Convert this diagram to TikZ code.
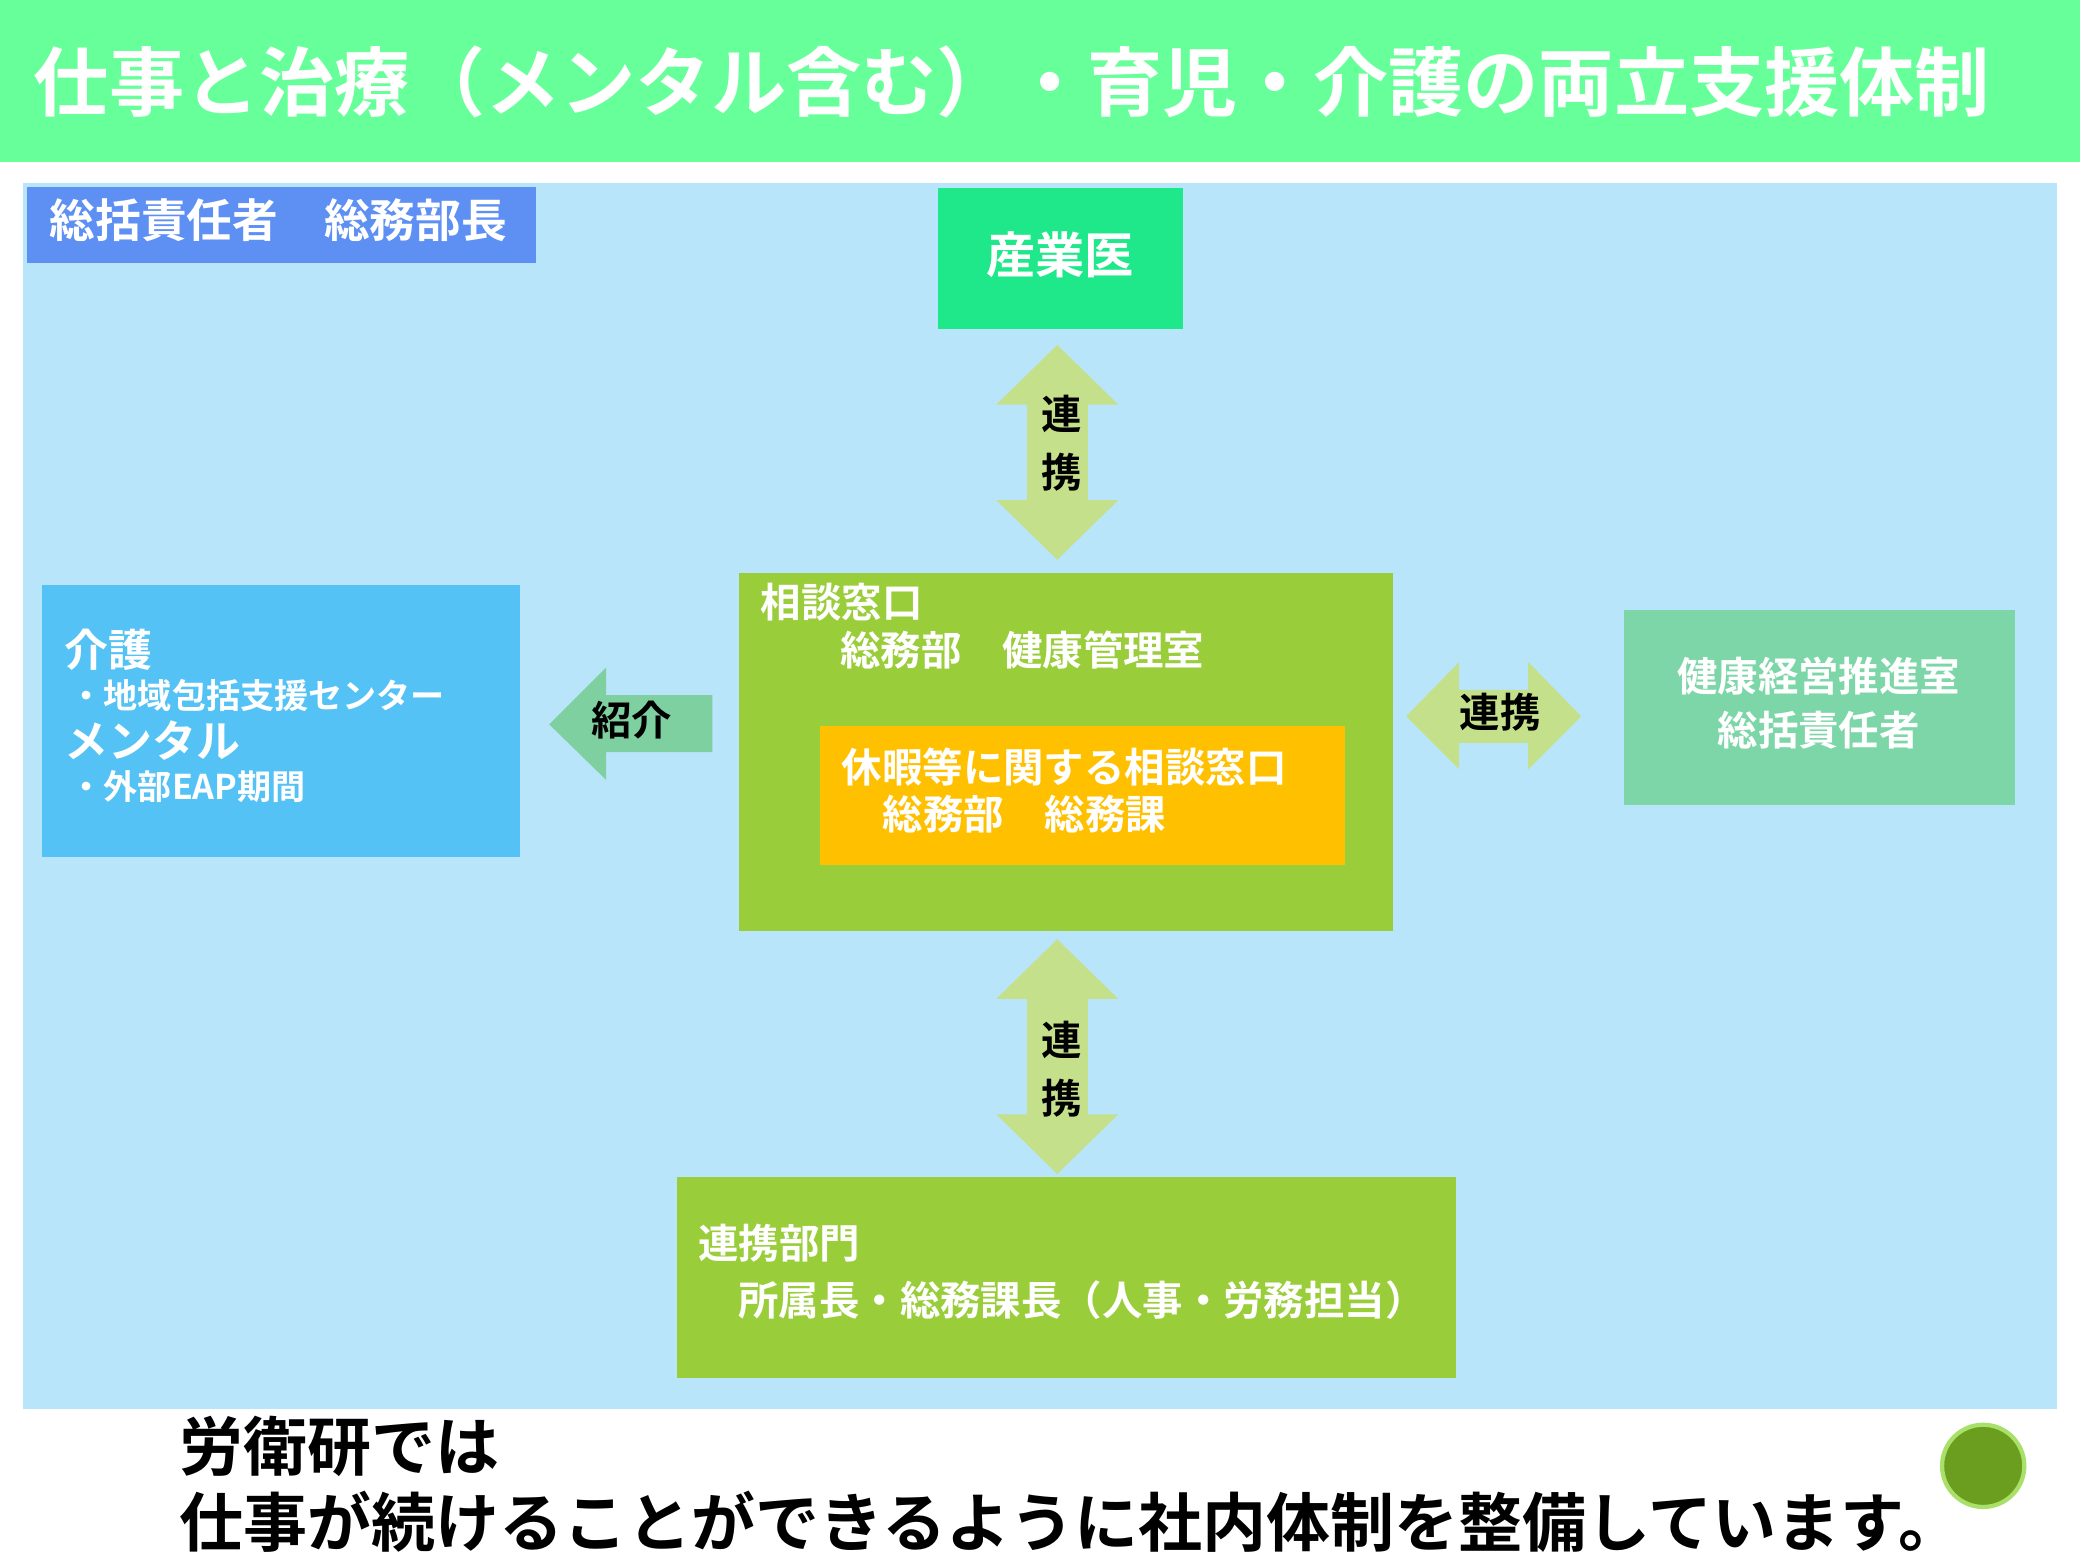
\documentclass[tikz,border=0pt]{standalone}
\usepackage{fontspec}
\setmainfont{Noto Sans CJK JP}[BoldFont={* Bold}]
\definecolor{hdrgreen}{HTML}{66FF99}
\definecolor{panelblue}{HTML}{B9E5FA}
\definecolor{chiefblue}{HTML}{5E8FF2}
\definecolor{docgreen}{HTML}{1EE88A}
\definecolor{linkgreen}{HTML}{C5E08A}
\definecolor{deskgreen}{HTML}{9ACD3A}
\definecolor{deskorange}{HTML}{FFC000}
\definecolor{careblue}{HTML}{55C2F5}
\definecolor{mintgreen}{HTML}{7DD6A8}
\definecolor{referarrow}{HTML}{7FD0A0}
\definecolor{olivedot}{HTML}{6B9E1F}
\definecolor{olivering}{HTML}{A8E06A}
\newcommand\fs[1]{\fontsize{#1pt}{\dimexpr #1pt*5/4\relax}\selectfont\bfseries}
\tikzset{
  box/.style={anchor=north west, inner sep=0pt, outer sep=0pt},
  wtxt/.style={anchor=west, text=white, inner sep=0pt},
  ktxt/.style={text=black, inner sep=0pt},
}
\begin{document}
\begin{tikzpicture}[x=0.013265cm, y=-0.013265cm]
\useasboundingbox (0,0) rectangle (1568,1176);
\fill[white] (0,0) rectangle (1568,1176);
% header
\fill[hdrgreen] (0,0) rectangle (1568,122);
\node[wtxt] (title) at (25,62) {\fs{21.4}仕事と治療（メンタル含む）・育児・介護の両立支援体制};
% panel
\fill[panelblue] (17,138) rectangle (1551,1062);
\node[box, fill=chiefblue, minimum width=5.094cm, minimum height=0.756cm] (chief) at (20,141) {};
\node[wtxt] (chieftxt) at (37,166) {\fs{13}総括責任者　総務部長};
\node[box, fill=docgreen, minimum width=2.454cm, minimum height=1.406cm] (doctor) at (707,142) {};
\node[text=white, inner sep=0pt] (doctortxt) at (799,192) {\fs{14}産業医};

% connectors
\foreach \cx/\ya/\yb/\ty in {797/260/422/334, 797/708/885/806}
{
  \fill[linkgreen] (\cx,\ya) -- (\cx+46,\ya+45) -- (\cx+23,\ya+45) -- (\cx+23,\yb-45)
    -- (\cx+46,\yb-45) -- (\cx,\yb) -- (\cx-46,\yb-45) -- (\cx-23,\yb-45)
    -- (\cx-23,\ya+45) -- (\cx-46,\ya+45) -- cycle;
  \node[ktxt, align=center, font=\fs{11.5}] at (\cx+3,\ty) {連\\[2pt]携};
}
\fill[linkgreen] (1060,540) -- (1100,499) -- (1100,520) -- (1152,520) -- (1152,499)
  -- (1192,540) -- (1152,580) -- (1152,560) -- (1100,560) -- (1100,580) -- cycle;
\node[ktxt] (linkright) at (1131,537) {\fs{11.5}連携};
\fill[referarrow] (414,546) -- (457,503) -- (457,524) -- (537,524) -- (537,567)
  -- (457,567) -- (457,588) -- cycle;
\node[ktxt] (refer) at (476,543) {\fs{11.5}紹介};

% center desk
\node[box, fill=deskgreen, minimum width=6.540cm, minimum height=3.582cm] (desk) at (557,432) {};
\node[wtxt] at (573,454) {\fs{11.5}相談窓口};
\node[wtxt] at (633,490) {\fs{11.5}総務部　健康管理室};
\node[box, fill=deskorange, minimum width=5.253cm, minimum height=1.393cm] (leave) at (618,547) {};
\node[wtxt] at (634,578) {\fs{11.5}休暇等に関する相談窓口};
\node[wtxt] at (665,614) {\fs{11.5}総務部　総務課};

% left box
\node[box, fill=careblue, minimum width=4.775cm, minimum height=2.719cm] (care) at (32,441) {};
\node[wtxt] at (48,490) {\fs{12.5}介護};
\node[wtxt] at (52,524) {\fs{9.7}・地域包括支援センター};
\node[wtxt] at (48,558) {\fs{12.5}メンタル};
\node[wtxt] at (52,593) {\fs{9.7}・外部EAP期間};

% right box
\node[box, fill=mintgreen, minimum width=3.913cm, minimum height=1.950cm] (health) at (1224,460) {};
\node[text=white, inner sep=0pt, align=center, font=\fs{11.5}] at (1371,530) {健康経営推進室\\[1pt]総括責任者};

% bottom box
\node[box, fill=deskgreen, minimum width=7.787cm, minimum height=2.016cm] (dept) at (510,887) {};
\node[wtxt] at (526,937) {\fs{11.5}連携部門};
\node[wtxt] at (556,980) {\fs{11.5}所属長・総務課長（人事・労務担当）};

% footer
\node[ktxt, anchor=west] (foot1) at (135,1090) {\fs{18.2}労衛研では};
\node[ktxt, anchor=west] (foot2) at (135,1147) {\fs{18.2}仕事が続けることができるように社内体制を整備しています。};
\filldraw[fill=olivedot, draw=olivering, line width=1.2pt] (1495,1105) circle (31);
\end{tikzpicture}
\end{document}
